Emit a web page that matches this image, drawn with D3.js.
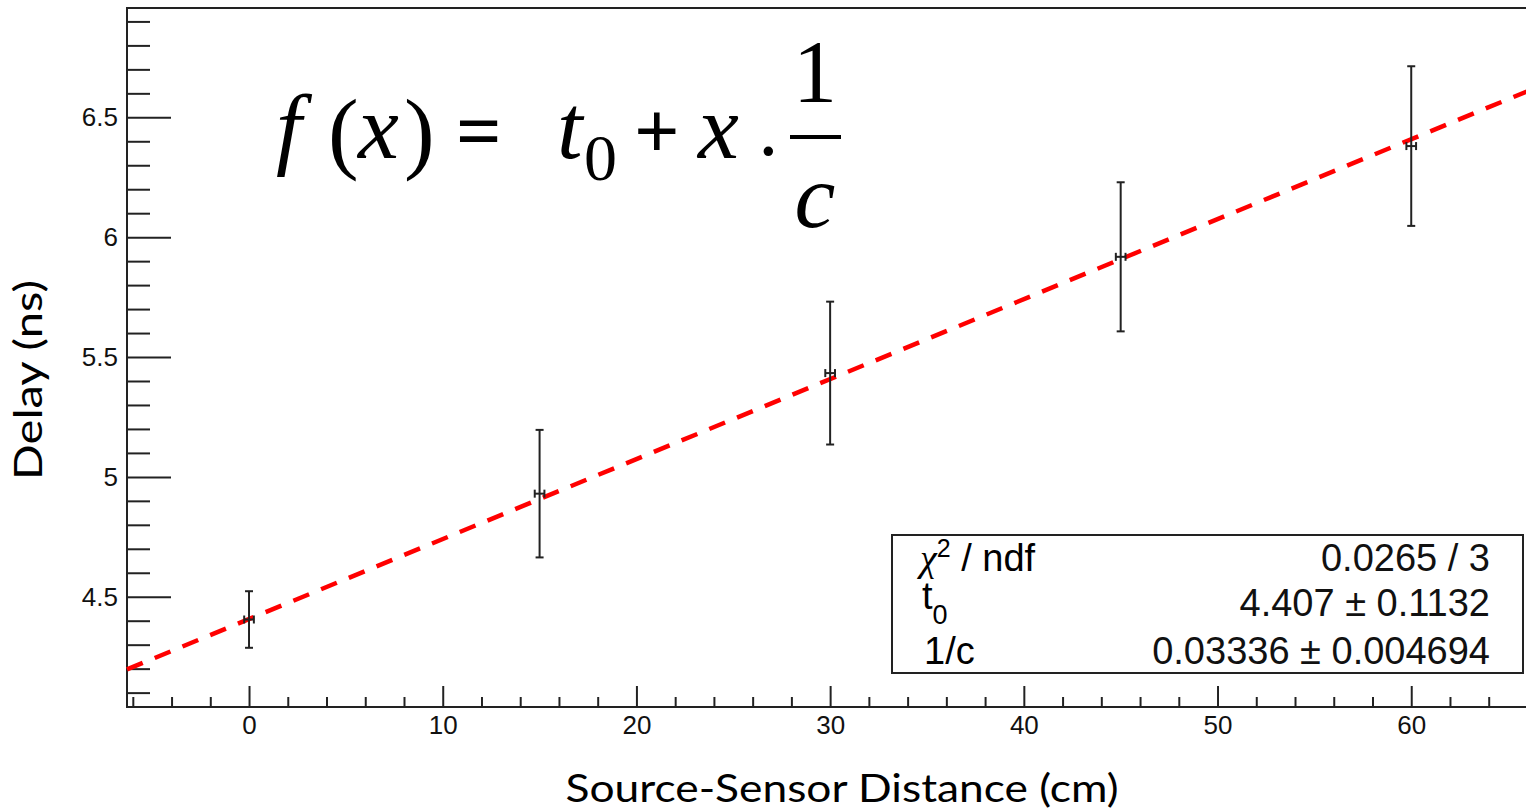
<!DOCTYPE html>
<html>
<head>
<meta charset="utf-8">
<script src="https://cdn.jsdelivr.net/npm/d3@7"></script>
<style>
  html, body { margin: 0; padding: 0; background: #fff; overflow: hidden; }
  svg { display: block; }
  .axis path { display: none; }
  .axis line { stroke: #222; stroke-width: 2px; }
</style>
</head>
<body>
<svg id="chart"></svg>
<script>
// measured points (cm, ns) with errors
var distance = [0, 15, 30, 45, 60];
var delay = [4.405, 4.930, 5.433, 5.918, 6.380];
var delayErr = [0.118, 0.266, 0.298, 0.311, 0.333];
var distErr = [0.25, 0.25, 0.25, 0.25, 0.25];

// fit result
var fitT0 = 4.407;
var fitSlope = 0.03336;
var statLabels = ["chi2", "t0", "1/c"];
var statValues = ["0.0265 / 3", "4.407 \u00b1 0.1132", "0.03336 \u00b1 0.004694"];

var xTicks = [0, 10, 20, 30, 40, 50, 60];
var yTicks = [4.5, 5, 5.5, 6, 6.5];
var yTickLabels = ["4.5", "5", "5.5", "6", "6.5"];

var width = 1526,
    height = 812;

var svg = d3.select("svg#chart")
    .attr("width", width)
    .attr("height", height);

var x = d3.scaleLinear()
    .domain([-6.3, 66])
    .range([127, 127 + 72.3 * 19.37]);

var y = d3.scaleLinear()
    .domain([4.04, 6.956])
    .range([707, 8]);

// minor ticks
var xMinor = d3.range(-6, 67, 2).filter(function(v) { return v % 10 !== 0; });
var yMinor = d3.range(41, 70).map(function(v) { return v / 10; })
    .filter(function(v) { return Math.abs(v * 2 - Math.round(v * 2)) > 1e-6; });

var tickFont = "'Liberation Sans', Arial, sans-serif";

svg.append("g")
    .attr("class", "axis")
    .attr("transform", "translate(0,707)")
    .call(d3.axisBottom(x).tickValues(xMinor).tickSizeInner(-10).tickSizeOuter(0).tickFormat(""));

svg.append("g")
    .attr("class", "axis")
    .attr("transform", "translate(0,707)")
    .call(d3.axisBottom(x).tickValues(xTicks).tickSizeInner(-21).tickSizeOuter(0).tickPadding(9)
        .tickFormat(d3.format("d")))
    .selectAll("text")
        .style("font-family", tickFont)
        .style("font-size", "26px")
        .style("fill", "#111");

svg.append("g")
    .attr("class", "axis")
    .attr("transform", "translate(127,0)")
    .call(d3.axisLeft(y).tickValues(yMinor).tickSizeInner(-23).tickSizeOuter(0).tickFormat(""));

svg.append("g")
    .attr("class", "axis")
    .attr("transform", "translate(127,0)")
    .call(d3.axisLeft(y).tickValues(yTicks).tickSizeInner(-44).tickSizeOuter(0).tickPadding(9)
        .tickFormat(function(d, i) { return yTickLabels[i]; }))
    .selectAll("text")
        .style("font-family", tickFont)
        .style("font-size", "26px")
        .style("fill", "#111");

// frame
svg.append("rect")
    .attr("x", x.range()[0])
    .attr("y", y.range()[1])
    .attr("width", x.range()[1] - x.range()[0] + 20)
    .attr("height", y.range()[0] - y.range()[1])
    .style("fill", "none")
    .style("stroke", "#222")
    .style("stroke-width", 2);

// fit line
var fitX = x.domain();
svg.append("line")
    .attr("x1", x(fitX[0]))
    .attr("y1", y(fitT0 + fitSlope * fitX[0]))
    .attr("x2", x(fitX[1]))
    .attr("y2", y(fitT0 + fitSlope * fitX[1]))
    .style("stroke", "#ff0000")
    .style("stroke-width", 4.5)
    .style("stroke-dasharray", "17,13");

// error bars
var pts = distance.map(function(d, i) {
    return { x: d, y: delay[i], ey: delayErr[i], ex: distErr[i] };
});

var bars = svg.selectAll("g.pt")
    .data(pts)
    .enter()
    .append("g")
        .attr("class", "pt")
        .style("stroke", "#222")
        .style("stroke-width", 2);

bars.append("line")
    .attr("x1", function(d) { return x(d.x); })
    .attr("x2", function(d) { return x(d.x); })
    .attr("y1", function(d) { return y(d.y - d.ey); })
    .attr("y2", function(d) { return y(d.y + d.ey); });

[-1, 1].forEach(function(s) {
    bars.append("line")
        .attr("x1", function(d) { return x(d.x) - 4; })
        .attr("x2", function(d) { return x(d.x) + 4; })
        .attr("y1", function(d) { return y(d.y + s * d.ey); })
        .attr("y2", function(d) { return y(d.y + s * d.ey); });
    bars.append("line")
        .attr("x1", function(d) { return x(d.x + s * d.ex); })
        .attr("x2", function(d) { return x(d.x + s * d.ex); })
        .attr("y1", function(d) { return y(d.y) - 4; })
        .attr("y2", function(d) { return y(d.y) + 4; });
});

bars.append("line")
    .attr("x1", function(d) { return x(d.x - d.ex); })
    .attr("x2", function(d) { return x(d.x + d.ex); })
    .attr("y1", function(d) { return y(d.y); })
    .attr("y2", function(d) { return y(d.y); });

// stat box
var box = svg.append("g");
box.append("rect")
    .attr("x", 892)
    .attr("y", 535)
    .attr("width", 631)
    .attr("height", 138)
    .style("fill", "#fff")
    .style("stroke", "#222")
    .style("stroke-width", 2);

var statFont = "'Liberation Sans', Arial, sans-serif";
var statSize = 38;
var rowBase = [571, 616, 664];

var l0 = box.append("text")
    .attr("x", 920).attr("y", rowBase[0])
    .style("font-family", statFont).style("font-size", statSize + "px");
l0.append("tspan").text("\u03c7").style("font-family", "'Liberation Serif', serif").style("font-style", "italic");
l0.append("tspan").text("2").attr("dy", -14).style("font-size", "25px");
l0.append("tspan").text(" / ndf").attr("dy", 14);

var l1 = box.append("text")
    .attr("x", 922).attr("y", rowBase[1] - 7)
    .style("font-family", statFont).style("font-size", statSize + "px");
l1.append("tspan").text("t");
l1.append("tspan").text("0").attr("dy", 15).style("font-size", "27px");

box.append("text")
    .attr("x", 924).attr("y", rowBase[2])
    .style("font-family", statFont).style("font-size", statSize + "px")
    .text(statLabels[2]);

box.selectAll("text.val")
    .data(statValues)
    .enter()
    .append("text")
        .attr("class", "val")
        .attr("x", 1490)
        .attr("y", function(d, i) { return rowBase[i]; })
        .attr("text-anchor", "end")
        .style("font-family", statFont)
        .style("font-size", statSize + "px")
        .style("fill", "#111")
        .text(function(d) { return d; });

// formula
var serif = "'Liberation Serif', 'Times New Roman', serif";
var formula = [
    { t: "f", x: 276, y: 158, it: true, fs: 92 },
    { t: "(", x: 328, y: 162, it: false, fs: 92 },
    { t: "x", x: 358, y: 158, it: true, fs: 92 },
    { t: ")", x: 404, y: 162, it: false, fs: 92 },
    { t: "=", x: 456, y: 158, it: false, fs: 80 },
    { t: "t", x: 557, y: 158, it: true, fs: 92 },
    { t: "0", x: 584, y: 180, it: false, fs: 66 },
    { t: "+", x: 634, y: 158, it: false, fs: 80 },
    { t: "x", x: 698, y: 158, it: true, fs: 92 },
    { t: "\u00b7", x: 755, y: 178, it: false, fs: 80 }
];
var fg = svg.append("g");
fg.selectAll("text")
    .data(formula)
    .enter()
    .append("text")
        .attr("x", function(d) { return d.x; })
        .attr("y", function(d) { return d.y; })
        .style("font-family", serif)
        .style("font-style", function(d) { return d.it ? "italic" : "normal"; })
        .style("font-size", function(d) { return d.fs + "px"; })
        .style("font-weight", function(d) { return (d.t === "=" || d.t === "+") ? "bold" : "normal"; })
        .text(function(d) { return d.t; });

fg.append("text")
    .attr("x", 815).attr("y", 101)
    .attr("text-anchor", "middle")
    .style("font-family", serif).style("font-size", "88px")
    .text("1");
fg.append("line")
    .attr("x1", 790).attr("x2", 841)
    .attr("y1", 137).attr("y2", 137)
    .style("stroke", "#000").style("stroke-width", 4);
fg.append("text")
    .attr("x", 815).attr("y", 227)
    .attr("text-anchor", "middle")
    .style("font-family", serif).style("font-style", "italic").style("font-size", "92px")
    .text("c");

// axis titles
svg.append("text")
    .attr("x", 842)
    .attr("y", 802)
    .attr("text-anchor", "middle")
    .attr("textLength", 553)
    .attr("lengthAdjust", "spacingAndGlyphs")
    .style("font-family", "Lato, 'Open Sans', sans-serif")
    .style("font-size", "39px")
    .style("fill", "#000")
    .text("Source-Sensor Distance (cm)");

svg.append("text")
    .attr("transform", "translate(42,380) rotate(-90)")
    .attr("text-anchor", "middle")
    .attr("textLength", 200)
    .attr("lengthAdjust", "spacingAndGlyphs")
    .style("font-family", "Lato, 'Open Sans', sans-serif")
    .style("font-size", "39px")
    .style("fill", "#000")
    .text("Delay (ns)");
</script>
</body>
</html>
